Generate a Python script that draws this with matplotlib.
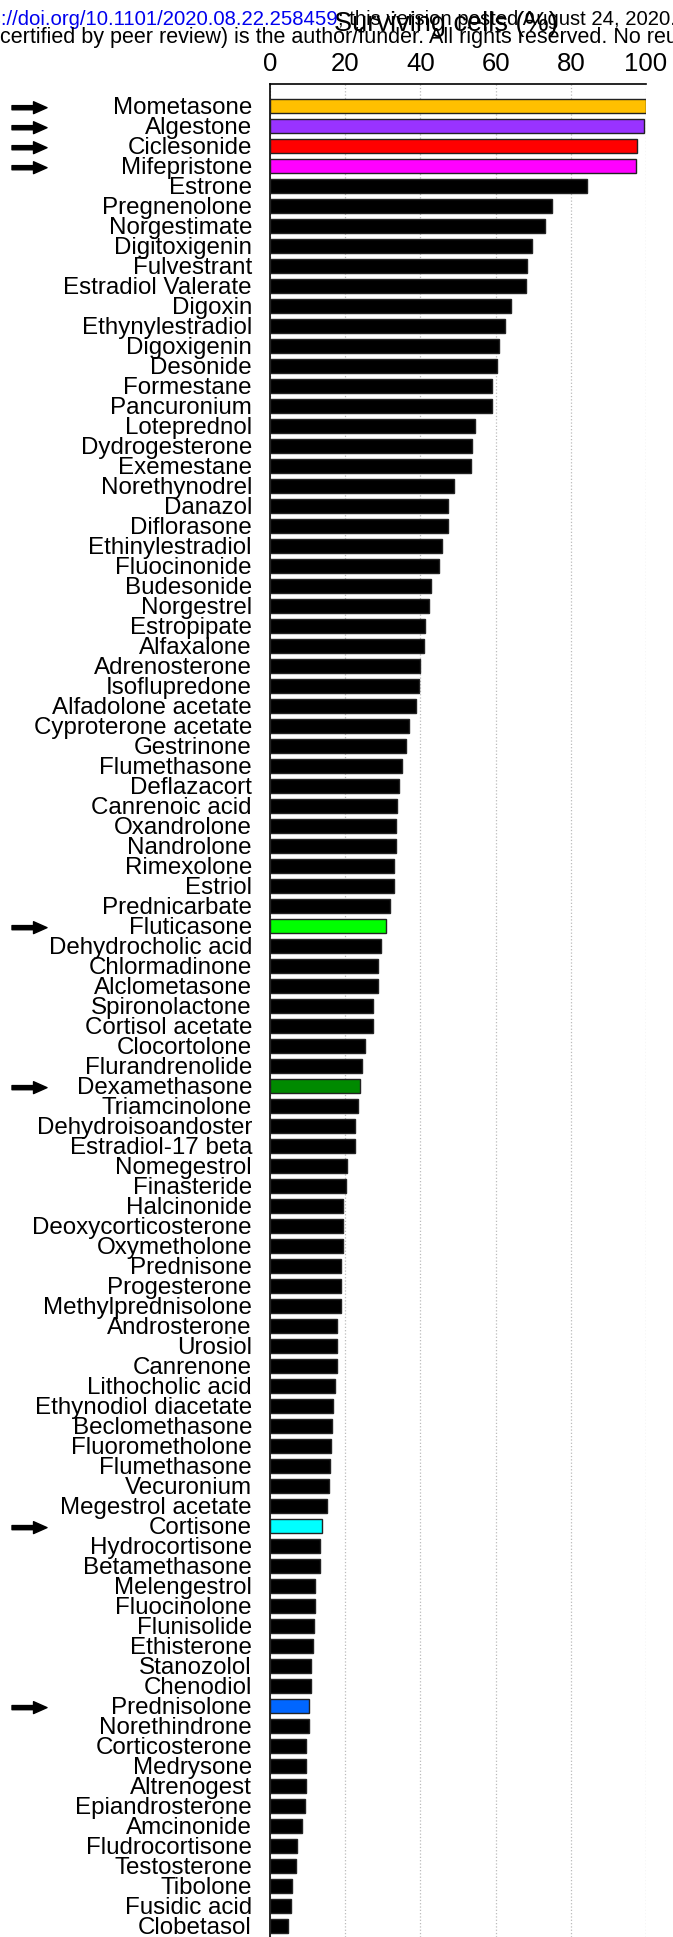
import matplotlib
matplotlib.use("Agg")
import matplotlib.pyplot as plt

plt.rcParams['font.family'] = ['Liberation Sans', 'DejaVu Sans']

drugs = ["Mometasone", "Algestone", "Ciclesonide", "Mifepristone", "Estrone",
         "Pregnenolone", "Norgestimate", "Digitoxigenin", "Fulvestrant", "Estradiol Valerate",
         "Digoxin", "Ethynylestradiol", "Digoxigenin", "Desonide", "Formestane",
         "Pancuronium", "Loteprednol", "Dydrogesterone", "Exemestane", "Norethynodrel",
         "Danazol", "Diflorasone", "Ethinylestradiol", "Fluocinonide", "Budesonide",
         "Norgestrel", "Estropipate", "Alfaxalone", "Adrenosterone", "Isoflupredone",
         "Alfadolone acetate", "Cyproterone acetate", "Gestrinone", "Flumethasone", "Deflazacort",
         "Canrenoic acid", "Oxandrolone", "Nandrolone", "Rimexolone", "Estriol",
         "Prednicarbate", "Fluticasone", "Dehydrocholic acid", "Chlormadinone", "Alclometasone",
         "Spironolactone", "Cortisol acetate", "Clocortolone", "Flurandrenolide", "Dexamethasone",
         "Triamcinolone", "Dehydroisoandoster", "Estradiol-17 beta", "Nomegestrol", "Finasteride",
         "Halcinonide", "Deoxycorticosterone", "Oxymetholone", "Prednisone", "Progesterone",
         "Methylprednisolone", "Androsterone", "Urosiol", "Canrenone", "Lithocholic acid",
         "Ethynodiol diacetate", "Beclomethasone", "Fluorometholone", "Flumethasone", "Vecuronium",
         "Megestrol acetate", "Cortisone", "Hydrocortisone", "Betamethasone", "Melengestrol",
         "Fluocinolone", "Flunisolide", "Ethisterone", "Stanozolol", "Chenodiol",
         "Prednisolone", "Norethindrone", "Corticosterone", "Medrysone", "Altrenogest",
         "Epiandrosterone", "Amcinonide", "Fludrocortisone", "Testosterone", "Tibolone",
         "Fusidic acid", "Clobetasol"]

surviving = [100.0, 99.4, 97.7, 97.3, 84.2,
             75.1, 73.2, 69.8, 68.3, 68.0,
             64.0, 62.5, 60.8, 60.4, 59.1,
             59.1, 54.5, 53.7, 53.4, 49.0,
             47.4, 47.4, 45.8, 45.0, 42.8,
             42.4, 41.3, 41.0, 39.9, 39.5,
             38.8, 37.1, 36.3, 35.1, 34.4,
             33.8, 33.5, 33.4, 33.0, 33.0,
             31.9, 30.9, 29.5, 28.8, 28.6,
             27.4, 27.4, 25.2, 24.5, 23.9,
             23.4, 22.6, 22.6, 20.6, 20.2,
             19.5, 19.3, 19.3, 19.0, 19.0,
             19.0, 17.8, 17.7, 17.7, 17.2,
             16.8, 16.4, 16.2, 16.0, 15.7,
             15.1, 13.7, 13.2, 13.2, 12.0,
             12.0, 11.6, 11.4, 10.9, 10.8,
             10.4, 10.3, 9.6, 9.6, 9.5,
             9.2, 8.6, 7.1, 6.8, 5.9,
             5.7, 4.8]

highlight = {"Mometasone": "#ffc000", "Algestone": "#9933ff", "Ciclesonide": "#ff0000",
             "Mifepristone": "#ff00ff", "Fluticasone": "#00ff00", "Dexamethasone": "#008a00",
             "Cortisone": "#00ffff", "Prednisolone": "#0066ff"}

W, H = 673, 1937
fig = plt.figure(figsize=(W / 100, H / 100), dpi=100)
ax = fig.add_axes([270 / W, 0, 376 / W, 1853 / H])

ypos = list(range(len(drugs)))
colors = [highlight.get(d, "black") for d in drugs]
ax.barh(ypos, surviving, height=0.7, color=colors, edgecolor="#222222", linewidth=1.0, zorder=3)

ax.set_xlim(0, 100)
ax.set_ylim(91.57, -1.085)
ax.set_yticks(ypos)
ax.set_yticklabels(drugs, fontsize=17.4)
ax.set_xticks([0, 20, 40, 60, 80, 100])
ax.xaxis.tick_top()
ax.xaxis.set_label_position("top")
ax.tick_params(axis="x", length=0, pad=6, labelsize=18.5)
ax.tick_params(axis="y", length=0, pad=13)
ax.set_xlabel("Surviving cells (%)", fontsize=19.5, labelpad=15)
ax.xaxis.label.set_x(0.468)
ax.grid(axis="x", color="#bbbbbb", linestyle=":", linewidth=0.9, zorder=0)
for s in ["right", "bottom"]:
    ax.spines[s].set_visible(False)
ax.spines["top"].set_linewidth(1.2)
ax.spines["left"].set_linewidth(1.2)

# arrows next to the highlighted drugs
for d in highlight:
    i = drugs.index(d)
    ax.annotate("", xy=(47, i + 0.1), xytext=(12, i + 0.1),
                xycoords=("figure pixels", "data"), textcoords=("figure pixels", "data"),
                annotation_clip=False,
                arrowprops=dict(arrowstyle="simple,head_length=0.97,head_width=0.86,tail_width=0.3",
                                mutation_scale=10, fc="black", ec="black", shrinkA=0, shrinkB=0))

# preprint header stamped over the figure
fig.text(338 / W, 1 - 25 / H, "https://doi.org/10.1101/2020.08.22.258459", ha="right",
         color="#0000ee", fontsize=14.6)
fig.text(338 / W, 1 - 25 / H, "; this version posted August 24, 2020. The copyright holder",
         ha="left", color="black", fontsize=14.6)
fig.text(0, 1 - 43 / H, "certified by peer review) is the author/funder. All rights reserved. No reuse allowed",
         ha="left", color="black", fontsize=15.5)

fig.savefig("out.png", dpi=100)
